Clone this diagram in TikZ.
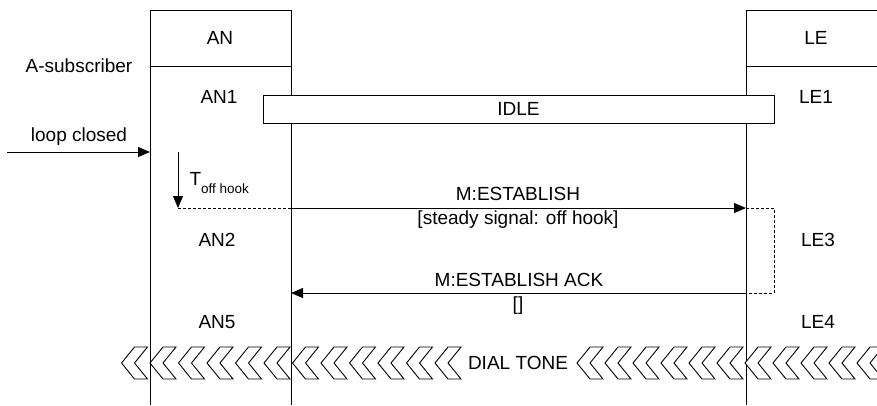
\documentclass[tikz,border=0pt]{standalone}
\usepackage{fontspec}
\setmainfont{Liberation Sans}
\usetikzlibrary{arrows.meta}
\begin{document}
\begin{tikzpicture}[x=1pt,y=-1pt,
  font=\fontsize{19}{21}\selectfont,
  line width=1pt,
  lbl/.style={inner sep=0pt, anchor=center},
  msg/.style={-{Triangle[length=12pt,width=10pt]}},
  dsh/.style={dash pattern=on 3pt off 2pt},
  chev/.style={draw, fill=white, line width=0.9pt, line join=miter}]
\useasboundingbox (0,0) rectangle (877,405);
\begin{scope}
\clip (0,0) rectangle (877,405);
% columns
\draw (150,405) -- (150,10) -- (291,10) -- (291,405);
\draw (150,66) -- (291,66);
\draw (746,405) -- (746,10) -- (890,10);
\draw (746,66) -- (890,66);
% headers and states
\node[lbl] (an) at (220,38) {AN};
\node[lbl] (le) at (816,38) {LE};
\node[lbl] (asub) at (79,66) {A-subscriber};
\node[lbl] (an1) at (219,97) {AN1};
\node[lbl] (le1) at (816,97) {LE1};
\node[lbl] (an2) at (217,240) {AN2};
\node[lbl] (le3) at (818,240) {LE3};
\node[lbl] (an5) at (217,322) {AN5};
\node[lbl] (le4) at (818,322) {LE4};
% IDLE
\node[draw, fill=white, minimum width=511pt, minimum height=28pt, inner sep=0pt] (idle) at (518.5,109) {IDLE};
% loop closed
\coordinate (lcs) at (7,152);
\coordinate (lce) at (150,152);
\draw[msg] (lcs) -- (lce);
\node[lbl] (lc) at (79,137) {loop closed};
% timer
\coordinate (ta) at (178,152);
\coordinate (tb) at (178,208);
\draw[msg] (ta) -- (tb);
\node[anchor=base west, inner sep=0pt] (tl) at (189,185) {T\raisebox{-8pt}{\fontsize{13.5}{14}\selectfont off hook}};
% M:ESTABLISH
\coordinate (anE) at (291,208);
\coordinate (leE) at (746,208);
\coordinate (dr1) at (774,208);
\coordinate (dr2) at (774,293);
\coordinate (leA) at (746,293);
\coordinate (anA) at (291,293);
\draw[dsh] (tb) -- (anE);
\draw[msg] (anE) -- (leE);
\draw[dsh] (leE) -- (dr1) -- (dr2) -- (leA);
\draw[msg] (leA) -- (anA);
\node[lbl] (m1) at (518,194) {M:ESTABLISH};
\node[lbl] (m1p) at (518,220) {[steady signal: off hook]};
\node[lbl] (m2) at (519,280) {M:ESTABLISH ACK};
\node[lbl] (m2p) at (518,306) {[]};
% dial tone
\foreach \t in {0,...,11} {
  \draw[chev] ({121.5+28.5*\t},363) -- ++(13,-16) -- ++(13,0) -- ++(-13,16) -- ++(13,16) -- ++(-13,0) -- cycle;
}
\foreach \t in {0,...,11} {
  \draw[chev] ({577+28*\t},363) -- ++(13,-16) -- ++(13,0) -- ++(-13,16) -- ++(13,16) -- ++(-13,0) -- cycle;
}
\node[fill=white, inner xsep=6pt, inner ysep=2pt] (dt) at (518,363) {DIAL TONE};
\end{scope}
\end{tikzpicture}
\end{document}
